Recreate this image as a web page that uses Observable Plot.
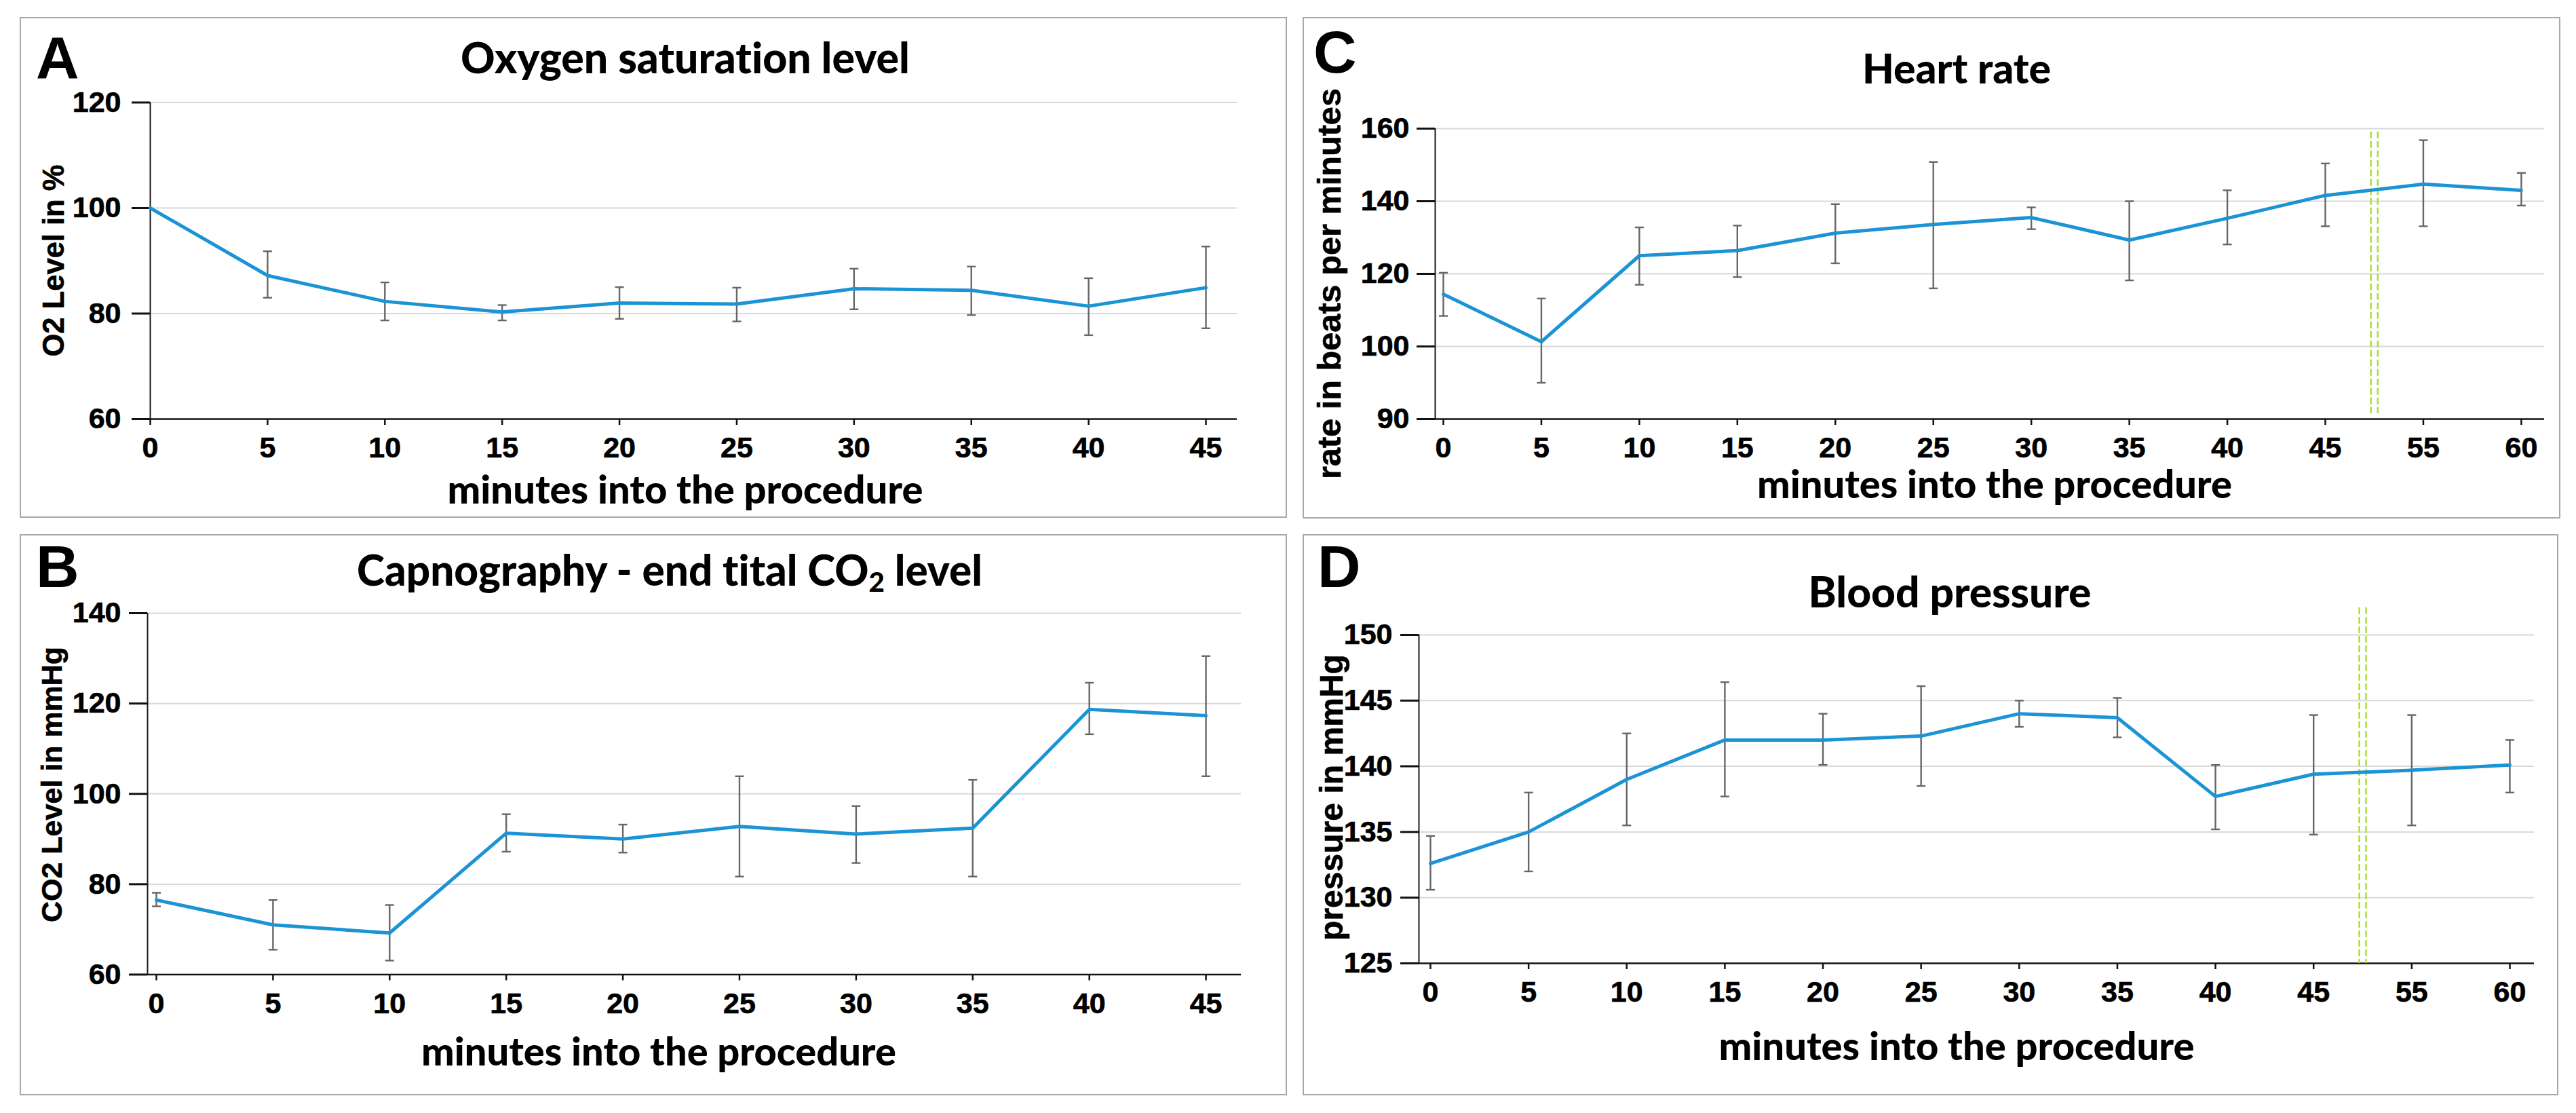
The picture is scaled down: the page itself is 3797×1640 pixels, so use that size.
<!DOCTYPE html>
<html>
<head>
<meta charset="utf-8">
<script src="https://cdn.jsdelivr.net/npm/d3@7"></script>
<script src="https://cdn.jsdelivr.net/npm/@observablehq/plot@0.6"></script>
<style>
  html, body { margin: 0; padding: 0; background: #fff; }
  body { width: 3797px; height: 1640px; position: relative; overflow: hidden; }
  .box { position: absolute; border: 2.5px solid #a8a8a8; box-sizing: border-box; }
  .chart { position: absolute; }
  .chart text { font-weight: 700; stroke: #000; stroke-width: 0.7px; paint-order: stroke; }
  #overlay { position: absolute; left: 0; top: 0; pointer-events: none; }
  #overlay text { font-variant-ligatures: none; font-feature-settings: "liga" 0, "clig" 0; }
  #overlay text.ylab { stroke: #000; stroke-width: 0.6px; }
</style>
</head>
<body>
<script>
// ---------------- data ----------------
const minutesAB = [0, 5, 10, 15, 20, 25, 30, 35, 40, 45];
const o2Mean  = [100, 87.2, 82.3, 80.3, 82.0, 81.8, 84.7, 84.4, 81.4, 84.9];
const o2Upper = [null, 91.8, 85.9, 81.6, 85.0, 84.9, 88.5, 88.9, 86.7, 92.7];
const o2Lower = [null, 83.0, 78.7, 78.7, 79.0, 78.5, 80.8, 79.7, 75.9, 77.2];

const co2Mean  = [76.5, 71.0, 69.2, 91.3, 90.0, 92.8, 91.1, 92.4, 118.7, 117.3];
const co2Upper = [78.1, 76.5, 75.4, 95.5, 93.2, 103.9, 97.3, 103.1, 124.6, 130.5];
const co2Lower = [75.1, 65.5, 63.1, 87.2, 87.0, 81.7, 84.7, 81.7, 113.2, 103.9];

const minutesCD = ["0", "5", "10", "15", "20", "25", "30", "35", "40", "45", "55", "60"];
const hrMean  = [114.4, 101.3, 125.0, 126.4, 131.2, 133.6, 135.5, 129.3, 135.3, 141.6, 144.7, 143.0];
const hrUpper = [120.3, 113.2, 132.8, 133.3, 139.2, 150.8, 138.3, 140.0, 143.0, 150.4, 156.8, 147.8];
const hrLower = [108.4, 90.0, 117.0, 119.1, 122.9, 116.0, 132.3, 118.2, 128.1, 133.1, 133.1, 138.8];

const bpMean  = [132.6, 135.0, 139.0, 142.0, 142.0, 142.3, 144.0, 143.7, 137.7, 139.4, 139.7, 140.1];
const bpUpper = [134.7, 138.0, 142.5, 146.4, 144.0, 146.1, 145.0, 145.2, 140.1, 143.9, 143.9, 142.0];
const bpLower = [130.6, 132.0, 135.5, 137.7, 140.1, 138.5, 143.0, 142.2, 135.2, 134.8, 135.5, 138.0];

const yTicksA = [60, 80, 100, 120];
const yTicksB = [60, 80, 100, 120, 140];
const yTicksC = [80, 100, 120, 140, 160];
const yTickLabelsC = ["90", "100", "120", "140", "160"];
const yTicksD = [125, 130, 135, 140, 145, 150];

const titles = {
  A: "Oxygen saturation level",
  B: "Capnography - end tital CO|2| level",
  C: "Heart rate",
  D: "Blood pressure"
};
const xLabel = "minutes into the procedure";
const yLabels = {
  A: "O2 Level in %",
  B: "CO2 Level in mmHg",
  C: "rate in beats per minutes",
  D: "pressure in mmHg"
};
// break between "45" and "55"
const breakAfter = "45";

// ---------------- layout ----------------
const BLUE = "#1b93d5";
const ERR = "#666666";
const GREEN = "#a8e02a";
const TICKFONT = "'Liberation Sans', Arial, sans-serif";
const TITLEFONT = "Lato, 'Open Sans', sans-serif";

const panels = [
  { key: "A", box: [29, 25, 1868, 738], frame: [221, 150.5, 1823, 617],
    xDomain: [0, 46.33], yDomain: [60, 120], yPad: 16,
    rows: minutesAB.map((m, i) => ({x: m, mean: o2Mean[i], hi: o2Upper[i], lo: o2Lower[i]})),
    xTicks: minutesAB, xFormat: d => String(d),
    yTicks: yTicksA, yFormat: d => String(d),
    letter: [53, 115], title: [1010, 108, 662], xlab: [1010, 742, 701], ylab: [94, 384, 283] },
  { key: "B", box: [29, 787, 1868, 827], frame: [217, 903, 1829, 1435.5],
    xDomain: [-0.378, 46.51], yDomain: [60, 140], yPad: 12,
    rows: minutesAB.map((m, i) => ({x: m, mean: co2Mean[i], hi: co2Upper[i], lo: co2Lower[i]})),
    xTicks: minutesAB, xFormat: d => String(d),
    yTicks: yTicksB, yFormat: d => String(d),
    letter: [53, 865], title: [987, 863, 922], xlab: [971, 1570, 700], ylab: [91, 1156, 406] },
  { key: "C", box: [1920, 25, 1854, 739], frame: [2115, 189, 3750, 617],
    xDomain: [-0.083, 11.236], yDomain: [80, 160], yPad: 11,
    rows: minutesCD.map((m, i) => ({x: i, mean: hrMean[i], hi: hrUpper[i], lo: hrLower[i]})),
    xTicks: minutesCD.map((m, i) => i), xFormat: i => minutesCD[i],
    yTicks: yTicksC, yFormat: d => yTickLabelsC[yTicksC.indexOf(d)],
    brk: [159.1, 81.5],
    letter: [1936, 107], title: [2884, 123, 278], xlab: [2940, 734, 700], ylab: [1976, 418, 576] },
  { key: "D", box: [1920, 787, 1851, 827], frame: [2091, 935, 3735, 1419],
    xDomain: [-0.1175, 11.249], yDomain: [125, 150], yPad: 12,
    rows: minutesCD.map((m, i) => ({x: i, mean: bpMean[i], hi: bpUpper[i], lo: bpLower[i]})),
    xTicks: minutesCD.map((m, i) => i), xFormat: i => minutesCD[i],
    yTicks: yTicksD, yFormat: d => String(d),
    brk: [152.07, 125],
    letter: [1942, 865], title: [2874, 895, 417], xlab: [2884, 1562, 701], ylab: [1979, 1175, 422] }
];

const capSymbol = {
  draw(ctx, size) {
    const r = Math.sqrt(size / Math.PI);
    ctx.moveTo(-r, 0);
    ctx.lineTo(r, 0);
  }
};

for (const p of panels) {
  const [bx, by, bw, bh] = p.box;
  const [fl, ft, fr, fb] = p.frame;
  const box = document.createElement("div");
  box.className = "box";
  Object.assign(box.style, {left: bx + "px", top: by + "px", width: bw + "px", height: bh + "px"});
  document.body.appendChild(box);

  const errRows = p.rows.filter(d => d.hi != null && d.lo != null);
  const marks = [
    Plot.gridY(p.yTicks.slice(1), {stroke: "#d9d9d9", strokeOpacity: 1, strokeWidth: 2}),
    Plot.ruleX([p.xDomain[0]], {stroke: "#1a1a1a", strokeWidth: 2}),
    Plot.ruleY([p.yDomain[0]], {stroke: "#111", strokeWidth: 2.5}),
    Plot.axisY(p.yTicks, {anchor: "left", tickSize: 27, tickPadding: p.yPad, tickFormat: p.yFormat,
      stroke: "#111", strokeWidth: 3, fill: "#000", fontSize: 43, fontWeight: "bold",
      fontFamily: TICKFONT, label: null}),
    Plot.axisX(p.xTicks, {anchor: "bottom", tickSize: 9, tickPadding: 17, tickFormat: p.xFormat,
      stroke: "#111", strokeWidth: 2.5, fill: "#000", fontSize: 43, fontWeight: "bold",
      fontFamily: TICKFONT, label: null})
  ];
  if (p.brk) {
    const bi = minutesCD.indexOf(breakAfter) + 0.5;
    for (const dx of [-5, 5]) {
      marks.push(Plot.ruleX([bi], {y1: p.brk[0], y2: p.brk[1], dx, stroke: GREEN, strokeWidth: 2.4,
        strokeDasharray: "10,4"}));
    }
  }
  marks.push(
    Plot.ruleX(errRows, {x: "x", y1: "lo", y2: "hi", stroke: ERR, strokeWidth: 2.4}),
    Plot.dot(errRows, {x: "x", y: "hi", symbol: capSymbol, r: 6.5, fill: "none", stroke: ERR, strokeWidth: 2.4}),
    Plot.dot(errRows, {x: "x", y: "lo", symbol: capSymbol, r: 6.5, fill: "none", stroke: ERR, strokeWidth: 2.4}),
    Plot.line(p.rows, {x: "x", y: "mean", stroke: BLUE, strokeWidth: 5, strokeLinejoin: "round"})
  );

  const chart = Plot.plot({
    width: bw, height: bh,
    marginLeft: fl - bx, marginRight: bx + bw - fr, marginTop: ft - by, marginBottom: by + bh - fb,
    style: {background: "transparent", overflow: "visible", fontFamily: TICKFONT, fontSize: "43px", fontWeight: "bold"},
    x: {type: "linear", domain: p.xDomain, axis: null},
    y: {type: "linear", domain: p.yDomain, axis: null},
    marks
  });
  chart.classList.add("chart");
  chart.style.position = "absolute";
  chart.style.left = bx + "px";
  chart.style.top = by + "px";
  chart.querySelectorAll("text").forEach(t => t.setAttribute("font-weight", "bold"));
  document.body.appendChild(chart);
}

// ---------------- text overlay ----------------
const NS = "http://www.w3.org/2000/svg";
const ov = document.createElementNS(NS, "svg");
ov.setAttribute("id", "overlay");
ov.setAttribute("width", 3797);
ov.setAttribute("height", 1640);
document.body.appendChild(ov);

function addText(str, x, y, opts) {
  const t = document.createElementNS(NS, "text");
  t.setAttribute("x", x);
  t.setAttribute("y", y);
  t.setAttribute("font-family", opts.family);
  t.setAttribute("font-weight", opts.weight || "bold");
  t.setAttribute("font-size", opts.size);
  t.setAttribute("fill", "#000");
  if (opts.cls) t.setAttribute("class", opts.cls);
  if (opts.anchor) t.setAttribute("text-anchor", opts.anchor);
  if (opts.rotate) t.setAttribute("transform", `rotate(-90 ${x} ${y})`);
  const parts = str.split("|");
  parts.forEach((s, i) => {
    const ts = document.createElementNS(NS, "tspan");
    ts.textContent = s;
    if (i % 2 === 1) { ts.setAttribute("font-size", "65%"); ts.setAttribute("dy", "0.22em"); }
    else if (i > 0) { ts.setAttribute("dy", "-0.143em"); }
    t.appendChild(ts);
  });
  ov.appendChild(t);
  if (opts.fit) {
    const len = t.getComputedTextLength();
    if (len > 0) t.setAttribute("font-size", opts.size * opts.fit / len);
  }
  return t;
}

for (const p of panels) {
  addText(p.key, p.letter[0], p.letter[1], {family: TICKFONT, size: 88});
  addText(titles[p.key], p.title[0], p.title[1], {family: TITLEFONT, size: 56, anchor: "middle", fit: p.title[2], weight: 900});
  addText(xLabel, p.xlab[0], p.xlab[1], {family: TITLEFONT, size: 56, anchor: "middle", fit: p.xlab[2], weight: 900});
  addText(yLabels[p.key], p.ylab[0], p.ylab[1], {family: TICKFONT, size: 42, anchor: "middle", rotate: true, fit: p.ylab[2], cls: "ylab"});
}
</script>
</body>
</html>
